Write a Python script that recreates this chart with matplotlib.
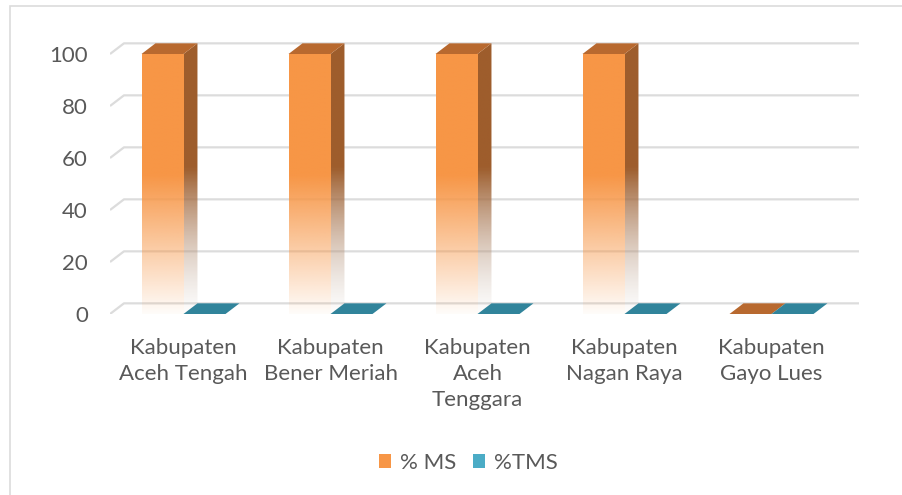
import matplotlib
matplotlib.use('Agg')

import numpy as np
import matplotlib.pyplot as plt
from matplotlib.patches import Polygon, Rectangle
from matplotlib.colors import to_rgb

categories = ["Kabupaten\nAceh Tengah", "Kabupaten\nBener Meriah",
              "Kabupaten\nAceh\nTenggara", "Kabupaten\nNagan Raya",
              "Kabupaten\nGayo Lues"]
ms_values = [100, 100, 100, 100, 0]
tms_values = [0, 0, 0, 0, 0]
series_names = ["% MS", "%TMS"]
yticks = [0, 20, 40, 60, 80, 100]

plt.rcParams['font.family'] = ['Lato', 'DejaVu Sans']
TEXT = '#595959'
GRID = '#dcdcdc'

# fake 3d depth, in data units
DX = 0.095
DY = 4.1
W = 1 / 3.5  # gap width 150%

fig = plt.figure(figsize=(9.02, 4.95), dpi=100)
px_x, px_y = 147, 2.6
ax = fig.add_axes([110 / 902, (495 - 314) / 495, 5.12 * px_x / 902, 106 * px_y / 495])
ax.set_xlim(0, 5.12)
ax.set_ylim(0, 106)
for s in ax.spines.values():
    s.set_visible(False)


def fade(color, n=200, solid=0.55, mid=None):
    t = np.linspace(0, 1, n)
    a = np.clip(0.03 + t / solid, 0, 1)
    rgb = np.array(to_rgb(color))
    if mid is not None:
        m = np.array(to_rgb(mid))
        k = np.clip(t / solid, 0, 1)[:, None]
        cols = m + (rgb - m) * k
    else:
        cols = np.tile(rgb, (n, 1))
    img = np.zeros((n, 1, 4))
    img[:, 0, :3] = cols
    img[:, 0, 3] = a
    return img


def grad_poly(verts, img, extent, z):
    p = Polygon(verts, closed=True, facecolor='none', edgecolor='none', zorder=z)
    ax.add_patch(p)
    im = ax.imshow(img, extent=extent, origin='lower', aspect='auto',
                   interpolation='bilinear', zorder=z)
    im.set_clip_path(p)


def bar3d(x0, h, front, side, top):
    x1 = x0 + W
    if h > 0:
        grad_poly([(x0, 0), (x1, 0), (x1, h), (x0, h)], fade(front),
                  (x0, x1, 0, h), 3)
        grad_poly([(x1, 0), (x1 + DX, DY), (x1 + DX, h + DY), (x1, h)],
                  fade(side, mid='#c9bcb2'), (x1, x1 + DX, 0, h + DY), 3)
    ax.add_patch(Polygon([(x0, h), (x0 + DX, h + DY), (x1 + DX, h + DY), (x1, h)],
                         closed=True, facecolor=top, edgecolor='none', zorder=4))


# gridlines with depth
for v in yticks:
    ax.plot([0, DX, 5 + DX], [v, v + DY, v + DY], color=GRID, lw=1.6,
            zorder=1, solid_capstyle='butt')

x = np.arange(len(categories))
for i in x:
    bar3d(i + 0.75 * W, ms_values[i], '#F79646', '#9E5D2C', '#B8692F')
for i in x:
    bar3d(i + 0.75 * W + W, tms_values[i], '#4BACC6', '#2E7487', '#31849B')

ax.set_yticks(yticks)
ax.set_yticklabels([str(v) for v in yticks])
ax.set_xticks(x + 0.5)
ax.set_xticklabels(categories, linespacing=1.4)
ax.tick_params(axis='y', length=0, pad=16, labelsize=16, labelcolor=TEXT)
ax.tick_params(axis='x', length=0, pad=17, labelsize=16, labelcolor=TEXT)

handles = [Rectangle((0, 0), 1, 1, facecolor='#F79646'),
           Rectangle((0, 0), 1, 1, facecolor='#4BACC6')]
fig.legend(handles, series_names, loc='center', bbox_to_anchor=(468 / 902, 1 - 463 / 495),
           ncol=2, frameon=False, fontsize=16, labelcolor=TEXT,
           handlelength=0.55, handleheight=0.55, handletextpad=0.4, columnspacing=0.75)

# outer chart border
fig.patches.append(Rectangle((10 / 902, -0.1), 1.2, 1.1 - 6 / 495,
                             transform=fig.transFigure, fill=False,
                             edgecolor=GRID, lw=1.2))

fig.savefig('out.png', dpi=100)
